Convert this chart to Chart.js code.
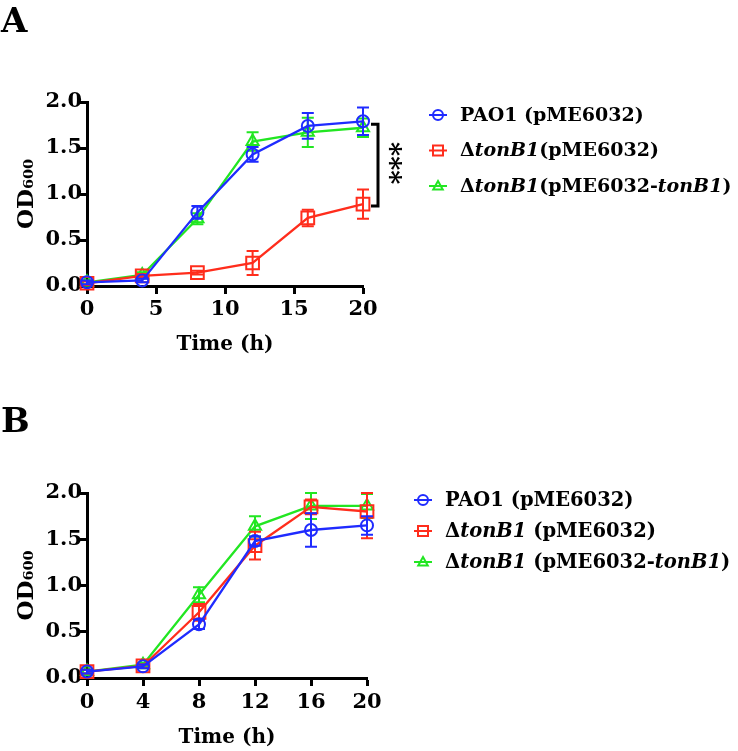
<!DOCTYPE html>
<html>
<head>
<meta charset="utf-8">
<script src="https://cdn.jsdelivr.net/npm/chart.js@4.4.1/dist/chart.umd.min.js"></script>
<style>
  html, body { margin: 0; padding: 0; background: #fff; }
  #wrap { position: relative; width: 738px; height: 751px; }
  canvas { position: absolute; left: 0; }
</style>
</head>
<body>
<div id="wrap">
  <canvas id="chartA" width="738" height="375" style="top:0"></canvas>
  <canvas id="chartB" width="738" height="376" style="top:375px"></canvas>
</div>
<script>
// sampling times (h)
const hours = [0, 4, 8, 12, 16, 20];

// panel A
const labelsA = ['PAO1 (pME6032)', 'ΔtonB1(pME6032)', 'ΔtonB1(pME6032-tonB1)'];
const paoA = [0.04, 0.06, 0.80, 1.43, 1.74, 1.79];
const paoSdA = [0.02, 0.02, 0.07, 0.08, 0.14, 0.15];
const tonA = [0.03, 0.11, 0.145, 0.25, 0.74, 0.89];
const tonSdA = [0.02, 0.02, 0.02, 0.13, 0.09, 0.16];
const compA = [0.04, 0.12, 0.73, 1.57, 1.67, 1.72];
const compSdA = [0.02, 0.03, 0.06, 0.10, 0.16, 0.10];

// panel B
const labelsB = ['PAO1 (pME6032)', 'ΔtonB1 (pME6032)', 'ΔtonB1 (pME6032-tonB1)'];
const paoB = [0.07, 0.126, 0.58, 1.48, 1.60, 1.65];
const paoSdB = [0.02, 0.02, 0.05, 0.05, 0.18, 0.10];
const tonB = [0.07, 0.13, 0.71, 1.43, 1.85, 1.80];
const tonSdB = [0.02, 0.02, 0.09, 0.15, 0.08, 0.29];
const compB = [0.07, 0.144, 0.90, 1.64, 1.86, 1.86];
const compSdB = [0.02, 0.02, 0.08, 0.11, 0.14, 0.13];

const xTicksA = [0, 5, 10, 15, 20];
const xTicksB = [0, 4, 8, 12, 16, 20];
const yTicks = [0, 0.5, 1.0, 1.5, 2.0];

const colors = ['#1f2bff', '#ff2d1c', '#22e622'];
const markers = ['circle', 'rect', 'triangle'];
const markerSize = [6, 9, 7];

Chart.defaults.font.family = '"DejaVu Serif", serif';
Chart.defaults.color = '#000';

function buildDatasets(labels, values, errors) {
  return labels.map((lab, i) => ({
    label: lab,
    data: hours.map((h, j) => ({ x: h, y: values[i][j] })),
    errors: errors[i],
    borderColor: colors[i],
    backgroundColor: 'rgba(0,0,0,0)',
    pointBackgroundColor: 'rgba(0,0,0,0)',
    pointBorderColor: colors[i],
    pointStyle: markers[i],
    pointRadius: markerSize[i],
    pointBorderWidth: 2,
    borderWidth: 2.3,
    tension: 0,
    clip: false
  }));
}

function drawMarker(ctx, style, x, y, r) {
  ctx.beginPath();
  if (style === 'circle') {
    ctx.arc(x, y, r, 0, Math.PI * 2);
  } else if (style === 'rect') {
    ctx.rect(x - r, y - r, 2 * r, 2 * r);
  } else {
    ctx.moveTo(x, y - r);
    ctx.lineTo(x + r * 0.95, y + r * 0.7);
    ctx.lineTo(x - r * 0.95, y + r * 0.7);
    ctx.closePath();
  }
  ctx.stroke();
}

const decor = {
  id: 'decor',
  afterDatasetDraw(chart, args) {
    // error bars
    const ds = chart.data.datasets[args.index];
    const ys = chart.scales.y;
    const ctx = chart.ctx;
    ctx.save();
    ctx.strokeStyle = ds.borderColor;
    ctx.lineWidth = 2;
    args.meta.data.forEach((pt, i) => {
      const v = ds.data[i].y, e = ds.errors[i];
      const top = ys.getPixelForValue(Math.min(v + e, ys.max));
      const bot = ys.getPixelForValue(Math.max(v - e, ys.min));
      ctx.beginPath();
      ctx.moveTo(pt.x, top); ctx.lineTo(pt.x, bot);
      ctx.moveTo(pt.x - 6, top); ctx.lineTo(pt.x + 6, top);
      ctx.moveTo(pt.x - 6, bot); ctx.lineTo(pt.x + 6, bot);
      ctx.stroke();
    });
    ctx.restore();
  },
  afterDraw(chart, args, o) {
    const ctx = chart.ctx;
    ctx.save();
    ctx.fillStyle = '#000';
    ctx.font = 'bold 34px "DejaVu Serif"';
    ctx.textBaseline = 'alphabetic';
    ctx.fillText(o.letter, 1, o.letterY);

    // legend
    chart.data.datasets.forEach((ds, i) => {
      const y = o.legendY + i * o.legendGap;
      ctx.strokeStyle = ds.borderColor;
      ctx.lineWidth = 2;
      ctx.beginPath();
      ctx.moveTo(o.legendX - 9, y);
      ctx.lineTo(o.legendX + 9, y);
      ctx.stroke();
      drawMarker(ctx, ds.pointStyle, o.legendX, y, 5);
      let x = o.legendTextX;
      ctx.fillStyle = '#000';
      ctx.textBaseline = 'middle';
      ds.label.split(/(tonB1)/).filter(Boolean).forEach(part => {
        ctx.font = (part === 'tonB1' ? 'italic ' : '') + 'bold ' + o.legendFont + 'px "DejaVu Serif"';
        ctx.fillText(part, x, y + 1);
        x += ctx.measureText(part).width;
      });
    });

    // significance bracket
    if (o.bracket) {
      const xs = chart.scales.x, ys = chart.scales.y;
      const n = hours.length - 1;
      const bx = xs.getPixelForValue(hours[n]) + 15;
      const y1 = ys.getPixelForValue(chart.data.datasets[0].data[n].y) + 3;
      const y2 = ys.getPixelForValue(chart.data.datasets[1].data[n].y) + 2;
      ctx.strokeStyle = '#000';
      ctx.lineWidth = 3;
      ctx.beginPath();
      ctx.moveTo(bx - 7, y1); ctx.lineTo(bx, y1);
      ctx.lineTo(bx, y2); ctx.lineTo(bx - 7, y2);
      ctx.stroke();
      ctx.translate(bx + 10, (y1 + y2) / 2 - 2);
      ctx.rotate(Math.PI / 2);
      ctx.font = 'bold 27px "DejaVu Serif"';
      ctx.textAlign = 'center';
      ctx.textBaseline = 'middle';
      ctx.fillText('***', 0, 0);
    }
    ctx.restore();
  }
};

function makeChart(id, datasets, p) {
  return new Chart(document.getElementById(id), {
    type: 'line',
    data: { datasets },
    options: {
      responsive: false,
      animation: false,
      events: [],
      layout: { padding: { top: p.top, right: p.right, left: 0, bottom: 0 } },
      plugins: {
        legend: { display: false },
        tooltip: { enabled: false },
        decor: p.decor
      },
      scales: {
        x: {
          type: 'linear',
          min: 0,
          max: 20,
          afterBuildTicks: s => { s.ticks = p.xTicks.map(v => ({ value: v })); },
          afterFit: s => { s.height = p.xHeight; },
          grid: { drawOnChartArea: false, tickLength: 8, tickWidth: 3, tickColor: '#000' },
          border: { color: '#000', width: 3 },
          ticks: { color: '#000', font: { size: 21, weight: 'bold' }, padding: p.xPad, maxRotation: 0, autoSkip: false },
          title: {
            display: true, text: 'Time (h)', color: '#000',
            font: { size: 20, weight: 'bold' },
            padding: { top: 0, bottom: p.titlePad }
          }
        },
        y: {
          min: 0,
          max: 2,
          afterBuildTicks: s => { s.ticks = yTicks.map(v => ({ value: v })); },
          afterFit: s => { s.width = 87; },
          grid: { drawOnChartArea: false, tickLength: 7, tickWidth: 3, tickColor: '#000' },
          border: { color: '#000', width: 3 },
          ticks: { color: '#000', font: { size: 21, weight: 'bold' }, padding: -2, callback: v => v.toFixed(1) },
          title: {
            display: true, text: 'OD₆₀₀', color: '#000',
            font: { size: 23, weight: 'bold' },
            padding: { top: 13, bottom: 0 }
          }
        }
      }
    },
    plugins: [decor]
  });
}

makeChart('chartA',
  buildDatasets(labelsA, [paoA, tonA, compA], [paoSdA, tonSdA, compSdA]),
  {
    top: 102, right: 375, xHeight: 89, xPad: 3, titlePad: 18, xTicks: xTicksA,
    decor: { letter: 'A', letterY: 32, legendX: 438, legendTextX: 460, legendY: 115, legendGap: 35.5, legendFont: 19, bracket: true }
  });

makeChart('chartB',
  buildDatasets(labelsB, [paoB, tonB, compB], [paoSdB, tonSdB, compSdB]),
  {
    top: 118, right: 371, xHeight: 73, xPad: 4, titlePad: 1, xTicks: xTicksB,
    decor: { letter: 'B', letterY: 57, legendX: 423, legendTextX: 445, legendY: 125, legendGap: 31, legendFont: 19.5, bracket: false }
  });
</script>
</body>
</html>
